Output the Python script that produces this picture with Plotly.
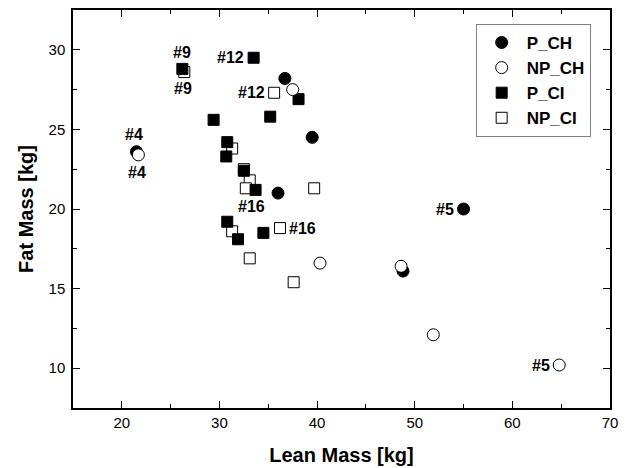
import plotly.graph_objects as go

# ---- data ----
p_ch_lean = [21.5, 36.7, 39.5, 36.0, 55.0, 48.8]
p_ch_fat = [23.6, 28.2, 24.5, 21.0, 20.0, 16.1]

np_ch_lean = [21.7, 37.5, 40.3, 48.6, 51.9, 64.8]
np_ch_fat = [23.4, 27.5, 16.6, 16.4, 12.1, 10.2]

p_ci_lean = [26.2, 33.5, 38.1, 29.4, 35.2, 30.8, 30.7, 32.5, 33.7, 30.8, 31.9, 34.5]
p_ci_fat = [28.8, 29.5, 26.9, 25.6, 25.8, 24.2, 23.3, 22.4, 21.2, 19.2, 18.1, 18.5]

np_ci_lean = [26.4, 35.6, 31.3, 32.5, 33.1, 32.7, 39.7, 31.3, 36.2, 33.1, 37.6]
np_ci_fat = [28.6, 27.3, 23.8, 22.5, 21.8, 21.3, 21.3, 18.6, 18.8, 16.9, 15.4]

series_names = ["P_CH", "NP_CH", "P_CI", "NP_CI"]

# subject labels: (series, point index, text)
subject_labels = [
    ("P_CI", 0, "#9"), ("NP_CI", 0, "#9"),
    ("P_CI", 1, "#12"), ("NP_CI", 1, "#12"),
    ("P_CH", 0, "#4"), ("NP_CH", 0, "#4"),
    ("P_CI", 8, "#16"), ("NP_CI", 8, "#16"),
    ("P_CH", 4, "#5"), ("NP_CH", 5, "#5"),
]
# pixel offsets for label placement (style)
label_offsets = {
    ("P_CI", 0): (0, 16), ("NP_CI", 0): (-1, -16),
    ("P_CI", 1): (-23, 0), ("NP_CI", 1): (-23, 0),
    ("P_CH", 0): (-2, 17), ("NP_CH", 0): (-1, -18),
    ("P_CI", 8): (-4, -17), ("NP_CI", 8): (23, 0),
    ("P_CH", 4): (-19, 0), ("NP_CH", 5): (-18, 0),
}

data = {
    "P_CH": (p_ch_lean, p_ch_fat),
    "NP_CH": (np_ch_lean, np_ch_fat),
    "P_CI": (p_ci_lean, p_ci_fat),
    "NP_CI": (np_ci_lean, np_ci_fat),
}
styles = {
    "P_CH": dict(symbol="circle", size=12, color="black"),
    "NP_CH": dict(symbol="circle", size=12, color="white"),
    "P_CI": dict(symbol="square", size=11, color="black"),
    "NP_CI": dict(symbol="square", size=11, color="white"),
}
draw_order = ["NP_CI", "P_CI", "P_CH", "NP_CH"]
rank = {n: i + 1 for i, n in enumerate(series_names)}

FONT = "Liberation Sans, Arial, sans-serif"

fig = go.Figure()
for name in draw_order:
    xs, ys = data[name]
    st = styles[name]
    fig.add_trace(go.Scatter(
        x=xs, y=ys, mode="markers", name="<b>" + name + "</b>", legendrank=rank[name],
        marker=dict(symbol=st["symbol"], size=st["size"], color=st["color"],
                    line=dict(color="black", width=1)),
    ))

for ser, idx, txt in subject_labels:
    xs, ys = data[ser]
    dx, dy = label_offsets[(ser, idx)]
    fig.add_annotation(x=xs[idx], y=ys[idx], text="<b>" + txt + "</b>",
                       showarrow=False, xshift=dx, yshift=dy,
                       font=dict(family=FONT, size=16, color="black"))

axis_common = dict(
    showgrid=False, zeroline=False, showline=True, linecolor="black", linewidth=1.5,
    mirror="ticks", ticks="inside", ticklen=7, tickwidth=1.2, tickcolor="black",
    tickfont=dict(family=FONT, size=15, color="black"),
    minor=dict(ticks="inside", ticklen=4, tickwidth=1.2, tickcolor="black"),
)

fig.update_xaxes(range=[15, 70], tick0=20, dtick=10,
                 minor_dtick=5,
                 title=dict(text="<b>Lean Mass [kg]</b>", standoff=18,
                            font=dict(family=FONT, size=20, color="black")),
                 **axis_common)
fig.update_yaxes(range=[7.5, 32.5], tick0=10, dtick=5,
                 minor_dtick=2.5, ticklabelstandoff=3,
                 title=dict(text="<b>Fat Mass [kg]</b>", standoff=10,
                            font=dict(family=FONT, size=20, color="black")),
                 **axis_common)

fig.update_layout(
    width=626, height=468,
    margin=dict(l=73, r=16, t=10, b=60, autoexpand=False),
    paper_bgcolor="white", plot_bgcolor="white",
    font=dict(family=FONT, color="black"),
    legend=dict(x=0.964, y=0.965, xanchor="right", yanchor="top",
                bordercolor="#808080", borderwidth=1, bgcolor="white",
                font=dict(family=FONT, size=17, color="black"),
                itemwidth=40, tracegroupgap=0),
    showlegend=True,
)

fig.write_html("out.html")
